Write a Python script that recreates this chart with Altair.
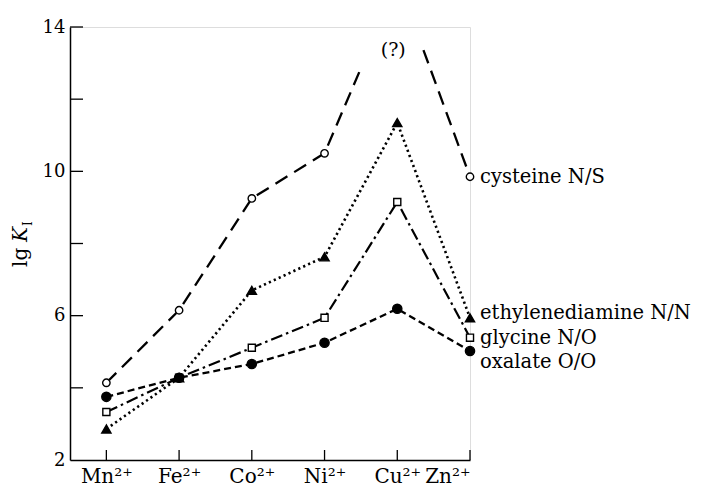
import altair as alt
import pandas as pd

ions = ["Mn²⁺", "Fe²⁺", "Co²⁺", "Ni²⁺", "Cu²⁺", "Zn²⁺"]
idx = [0, 1, 2, 3, 4, 5]
cysteine = [4.14, 6.15, 9.25, 10.5, None, 9.85]
ethylenediamine = [2.86, 4.28, 6.7, 7.63, 11.35, 5.94]
glycine = [3.33, 4.28, 5.11, 5.94, 9.15, 5.39]
oxalate = [3.75, 4.28, 4.66, 5.25, 6.19, 5.02]

# visible ends of the cysteine line around the unknown Cu value
cys_break_x = [3.49, 4.36]
cys_break_y = [12.81, 13.36]

names = ["cysteine N/S", "ethylenediamine N/N", "glycine N/O", "oxalate O/O"]
label_y = [9.85, 6.08, 5.39, 4.72]

y_ticks = [4, 6, 8, 10, 12, 14]
y_labels = [2, 6, 10, 14]

FONT = "DejaVu Serif"

xs = alt.Scale(domain=[-0.5, 5], nice=False, zero=False)
ys = alt.Scale(domain=[2, 14], nice=False, zero=False)

label_expr = "[" + ",".join("'%s'" % s for s in ions) + "][datum.value]"

def series_df(vals):
    return pd.DataFrame({"x": [i for i, v in zip(idx, vals) if v is not None],
                         "y": [v for v in vals if v is not None]})

cys_pts = series_df(cysteine)
cys_line = pd.DataFrame({
    "x": idx[:4] + [cys_break_x[0], cys_break_x[1], idx[5]],
    "y": cysteine[:4] + [cys_break_y[0], cys_break_y[1], cysteine[5]],
    "seg": ["a"] * 5 + ["b"] * 2,
})

X = alt.X("x:Q", scale=xs, axis=alt.Axis(values=idx, labelExpr=label_expr, title=None,
          grid=False, ticks=False, domainColor="black", domainWidth=1.5,
          labelFont=FONT, labelFontSize=20, labelColor="black", labelPadding=6))
Y = alt.Y("y:Q", scale=ys, axis=alt.Axis(values=y_labels, title=None, grid=False,
          ticks=False, domainColor="black", domainWidth=1.5,
          labelFont=FONT, labelFontSize=18, labelColor="black", labelPadding=5))

base_axes = alt.Chart(series_df(oxalate)).mark_point(opacity=0).encode(x=X, y=Y)

def line(df, dash, width=2.2, detail=None):
    enc = dict(x=alt.X("x:Q", scale=xs), y=alt.Y("y:Q", scale=ys))
    if detail:
        enc["detail"] = detail
    return alt.Chart(df).mark_line(color="black", strokeDash=dash, strokeWidth=width,
                                   clip=False).encode(**enc)

def pts(df, shape, size, filled_black):
    return alt.Chart(df).mark_point(
        shape=shape, size=size, filled=True,
        fill="black" if filled_black else "white",
        stroke="black", strokeWidth=1.4, opacity=1,
    ).encode(x=alt.X("x:Q", scale=xs), y=alt.Y("y:Q", scale=ys))

lines = [
    line(cys_line, [14, 8], 2.3, detail="seg:N"),
    line(series_df(ethylenediamine), [2.2, 3.2], 2.6),
    line(series_df(glycine), [12, 4, 2.5, 4], 2.2),
    line(series_df(oxalate), [7, 4], 2.3),
]
points = [
    pts(cys_pts, "circle", 55, False),
    pts(series_df(ethylenediamine), "triangle-up", 85, True),
    pts(series_df(glycine), "square", 50, False),
    pts(series_df(oxalate), "circle", 85, True),
]

ytick_rules = alt.Chart(pd.DataFrame({"v": y_ticks})).mark_rule(color="black", strokeWidth=1.3).encode(
    y=alt.Y("v:Q", scale=ys), x=alt.value(0), x2=alt.value(13))
xtick_rules = alt.Chart(pd.DataFrame({"v": idx})).mark_rule(color="black", strokeWidth=1.3).encode(
    x=alt.X("v:Q", scale=xs), y=alt.value(433), y2=alt.value(423))

labels = alt.Chart(pd.DataFrame({"name": names, "y": label_y, "x": [5] * 4})).mark_text(
    align="left", baseline="middle", dx=10, font=FONT, fontSize=19.5, color="black").encode(
    x=alt.X("x:Q", scale=xs), y=alt.Y("y:Q", scale=ys), text="name:N")

q = alt.Chart(pd.DataFrame({"x": [4], "y": [13.36], "t": ["(?)"]})).mark_text(
    align="center", baseline="middle", dx=-4, font=FONT, fontSize=19, color="black").encode(
    x=alt.X("x:Q", scale=xs), y=alt.Y("y:Q", scale=ys), text="t:N")

t_lg = alt.Chart(pd.DataFrame({"t": ["lg"]})).mark_text(
    angle=270, align="left", baseline="alphabetic", font=FONT, fontSize=20, color="black").encode(
    x=alt.value(-43), y=alt.value(240), text="t:N")
t_k = alt.Chart(pd.DataFrame({"t": ["K"]})).mark_text(
    angle=270, align="left", baseline="alphabetic", font=FONT, fontSize=20, fontStyle="italic",
    color="black").encode(x=alt.value(-43), y=alt.value(215), text="t:N")
t_i = alt.Chart(pd.DataFrame({"t": ["I"]})).mark_text(
    angle=270, align="left", baseline="alphabetic", font=FONT, fontSize=12, color="black").encode(
    x=alt.value(-38), y=alt.value(199), text="t:N")

chart = alt.layer(base_axes, ytick_rules, xtick_rules, *lines, *points, labels, q, t_lg, t_k, t_i).properties(
    width=400, height=433,
    autosize=alt.AutoSizeParams(type="none"),
    padding={"left": 62, "top": 19, "right": 226, "bottom": 28},
).configure_view(stroke=None).configure(background="white")

chart.save("out.html", embed_options={"renderer": "svg", "actions": False})
